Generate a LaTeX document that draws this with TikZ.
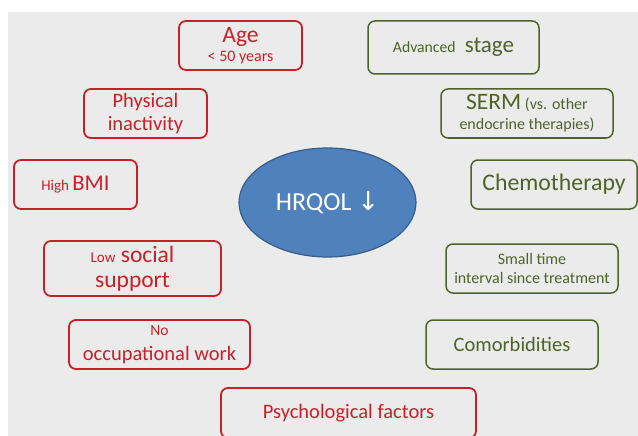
\documentclass[tikz,border=0pt]{standalone}
\usepackage{fontspec}
\setmainfont{Carlito}
\newfontfamily\arrowfont{DejaVu Sans}
\usetikzlibrary{shapes.geometric}
\definecolor{bggray}{RGB}{235,235,235}
\definecolor{riskred}{RGB}{200,32,40}
\definecolor{riskgreen}{RGB}{79,98,40}
\definecolor{hrqolfill}{RGB}{79,129,189}
\definecolor{hrqoledge}{RGB}{56,93,138}
\newcommand{\fsz}[2]{\fontsize{#1}{#2}\selectfont}
\tikzset{
	riskbox/.style={draw, rounded corners=7pt, fill=bggray, align=center, inner sep=0pt},
	redbox/.style={riskbox, line width=1.8pt, draw=riskred, text=riskred},
	greenbox/.style={riskbox, line width=1.5pt, draw=riskgreen, text=riskgreen},
	boxsize/.style 2 args={minimum width=#1pt, minimum height=#2pt}
}

\begin{document}
\begin{tikzpicture}[x=1pt, y=-1pt]
			%%%%% START %%%%%
			
			\useasboundingbox (0, 0) rectangle (638, 436);
			\fill[bggray] (8, 12) rectangle (638, 436);
			
			\node[ellipse, draw=hrqoledge, line width=1.2pt, fill=hrqolfill, text=white, minimum width=177pt, minimum height=109pt, inner sep=0pt, font=\fsz{26}{30}] (hrqol) at (327.5, 202.5) {HRQOL {\arrowfont ↓}};
			
			% risk factors on the left
			\node[redbox, boxsize={123}{49}, font=\fsz{16}{19}] (age) at (240.5, 45.5) {{\fsz{23.5}{19}Age}\\< 50 years};
			\node[redbox, boxsize={123}{49}, font=\fsz{20.5}{23.5}] (inactivity) at (145.5, 113.5) {Physical\\inactivity};
			\node[redbox, boxsize={123}{49}, font=\fsz{15}{18}] (bmi) at (75.5, 184.5) {High {\fsz{22.5}{18}BMI}};
			\node[redbox, boxsize={177}{55}, font=\fsz{23.5}{25}] (support) at (132.5, 268.5) {{\fsz{15}{25}Low} social\\support};
			\node[redbox, boxsize={181}{49}, font=\fsz{20.5}{25}] (work) at (159.5, 344.5) {{\fsz{15.5}{25}No}\\occupational work};
			\node[redbox, boxsize={255}{50}, font=\fsz{20.5}{24}] (psych) at (348.5, 413) {Psychological factors};
			
			% risk factors on the right
			\node[greenbox, boxsize={171}{53}, font=\fsz{23}{20}] (stage) at (453.5, 47.5) {{\fsz{15.7}{20}Advanced}\hspace{4pt} stage};
			\node[greenbox, boxsize={172}{49}, font=\fsz{16}{20}] (serm) at (527, 113.5) {{\fsz{23.5}{20}SERM} (vs. other\\endocrine therapies)};
			\node[greenbox, boxsize={166}{49}, font=\fsz{23.8}{24}] (chemo) at (554, 184.5) {Chemotherapy};
			\node[greenbox, boxsize={172}{49}, font=\fsz{16}{18.5}] (interval) at (532, 268.5) {Small time\\interval since treatment};
			\node[greenbox, boxsize={172}{49}, font=\fsz{20.5}{24}] (comorb) at (512, 344.5) {Comorbidities};
			
			%%%%% END %%%%%
\end{tikzpicture}
\end{document}
